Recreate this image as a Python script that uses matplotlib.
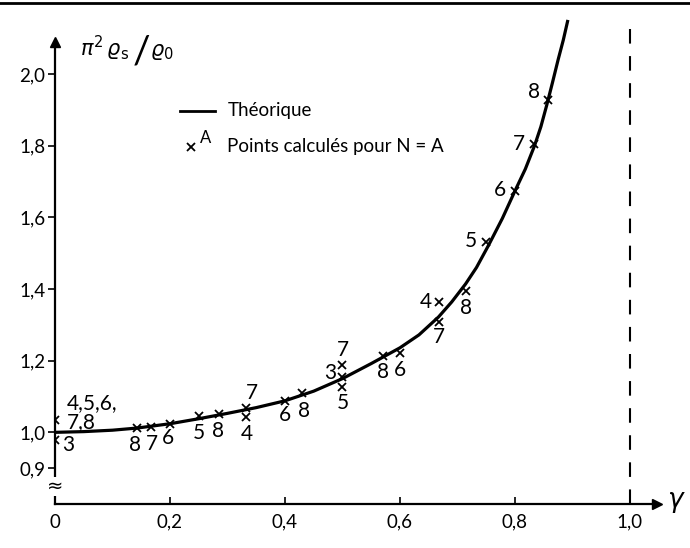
import matplotlib
matplotlib.use("Agg")
import matplotlib.pyplot as plt
from matplotlib.lines import Line2D

plt.rcParams["font.family"] = ["Lato", "DejaVu Sans"]
plt.rcParams["mathtext.fontset"] = "dejavusans"

# theoretical curve
gamma_theory = [0.0, 0.05, 0.10, 0.143, 0.20, 0.25, 0.30, 0.35, 0.40, 0.45,
                0.50, 0.55, 0.60, 0.633, 0.667, 0.69, 0.714, 0.733, 0.754,
                0.778, 0.80, 0.818, 0.834, 0.845, 0.855, 0.865, 0.875,
                0.884, 0.892]
rho_theory = [1.000, 1.002, 1.006, 1.012, 1.024, 1.038, 1.053, 1.069, 1.088,
              1.115, 1.150, 1.192, 1.236, 1.272, 1.322, 1.364, 1.414, 1.460,
              1.522, 1.597, 1.674, 1.735, 1.800, 1.853, 1.912, 1.975, 2.040,
              2.095, 2.151]

# computed points (x markers) and their N labels
gamma_pts = [0.0, 0.0, 0.143, 0.167, 0.200, 0.250, 0.286, 0.333, 0.333,
             0.400, 0.429, 0.500, 0.500, 0.500, 0.571, 0.600, 0.667, 0.667,
             0.714, 0.750, 0.800, 0.833, 0.857]
rho_pts = [1.035, 0.978, 1.013, 1.015, 1.024, 1.045, 1.052, 1.069, 1.043,
           1.087, 1.110, 1.189, 1.155, 1.127, 1.212, 1.222, 1.364, 1.308,
           1.395, 1.530, 1.674, 1.806, 1.927]
pt_labels = ["4,5,6,\n7,8", "3", "8", "7", "6", "5", "8", "7", "4",
             "6", "8", "7", "3", "5", "8", "6", "4", "7",
             "8", "5", "6", "7", "8"]

yticks = [0.9, 1.0, 1.2, 1.4, 1.6, 1.8, 2.0]
xticks = [0.0, 0.2, 0.4, 0.6, 0.8, 1.0]

# label offsets from each marker, in pixels (dx right, dy up)
label_off = [(12, 7), (13, -5), (-2, -17), (1, -17), (-2, -14), (0, -17),
             (-1, -17), (5, 15), (0, -17), (0, -14), (2, -18), (0, 15),
             (-12, 4), (0, -16), (0, -16), (0, -17), (-13, 0), (0, -15),
             (0, -17), (-15, 1), (-15, 1), (-15, 0), (-14, 8)]

fig = plt.figure(figsize=(6.9, 5.48), dpi=100)
ax = fig.add_axes([55 / 690, 44 / 548, 609.5 / 690, 487.3 / 548])
ax.set_xlim(0, 1.06)
ax.set_ylim(0.8, 2.16)

fig.add_artist(Line2D([0, 1], [0.995, 0.995], color="k", lw=2))

for s in ("top", "right"):
    ax.spines[s].set_visible(False)
ax.spines["left"].set_bounds(0.8, 2.08)
ax.spines["bottom"].set_bounds(0, 1.04)
for s in ("left", "bottom"):
    ax.spines[s].set_linewidth(1.6)
ax.plot([0], [2.09], marker="^", ms=7, color="k", clip_on=False)
ax.plot([1.047], [0.8], marker=">", ms=7, color="k", clip_on=False)

ax.set_yticks(yticks)
ax.set_yticklabels([f"{v:.1f}".replace(".", ",") for v in yticks])
ax.set_xticks(xticks)
ax.set_xticklabels(["0"] + [f"{v:.1f}".replace(".", ",") for v in xticks[1:]])
ax.tick_params(axis="y", direction="out", length=5, width=1.2, pad=2,
               labelsize=13.5)
ax.tick_params(axis="x", direction="in", length=5, width=1.2, pad=7,
               labelsize=13.5)

# axis break mark
ax.text(0, 0.85, "\u2248", ha="center", va="center", fontsize=14,
        family="DejaVu Sans",
        bbox=dict(facecolor="white", edgecolor="none", pad=0))

ax.axvline(1.0, ymin=0, ymax=(2.15 - 0.8) / 1.36, color="k", lw=1.5,
           dashes=(7, 6))

ax.plot(gamma_theory, rho_theory, color="k", lw=2.3, solid_capstyle="butt",
        solid_joinstyle="round")
ax.plot(gamma_pts, rho_pts, ls="none", marker="x", ms=6, mew=1.3, color="k")

for gx, gy, lab, (dx, dy) in zip(gamma_pts, rho_pts, pt_labels, label_off):
    ax.annotate(lab, (gx, gy), xytext=(dx * 0.72, dy * 0.72),
                textcoords="offset points", fontsize=15,
                ha="left" if "\n" in lab else "center", va="center",
                linespacing=0.95)

# y label
ax.text(0.043, 2.05, r"$\pi^{2}\,\varrho_{\mathrm{s}}$", fontsize=15,
        ha="left", va="baseline")
ax.text(0.150, 2.06, "/", fontsize=28, ha="center", va="center")
ax.text(0.166, 2.05, r"$\varrho_0$", fontsize=15, ha="left", va="baseline")

# x label
ax.text(1.065, 0.805, r"$\gamma$", fontsize=19, ha="left", va="center",
        clip_on=False)

# legend drawn by hand
ax.plot([0.217, 0.278], [1.897, 1.897], color="k", lw=2)
ax.text(0.30, 1.897, "Théorique", fontsize=13.5, ha="left", va="center")
ax.plot([0.236], [1.797], ls="none", marker="x", ms=6, mew=1.3, color="k")
ax.text(0.252, 1.822, "A", fontsize=12, ha="left", va="center")
ax.text(0.30, 1.797, "Points calculés pour N = A", fontsize=13.5,
        ha="left", va="center")

fig.savefig("out.png", dpi=100)
